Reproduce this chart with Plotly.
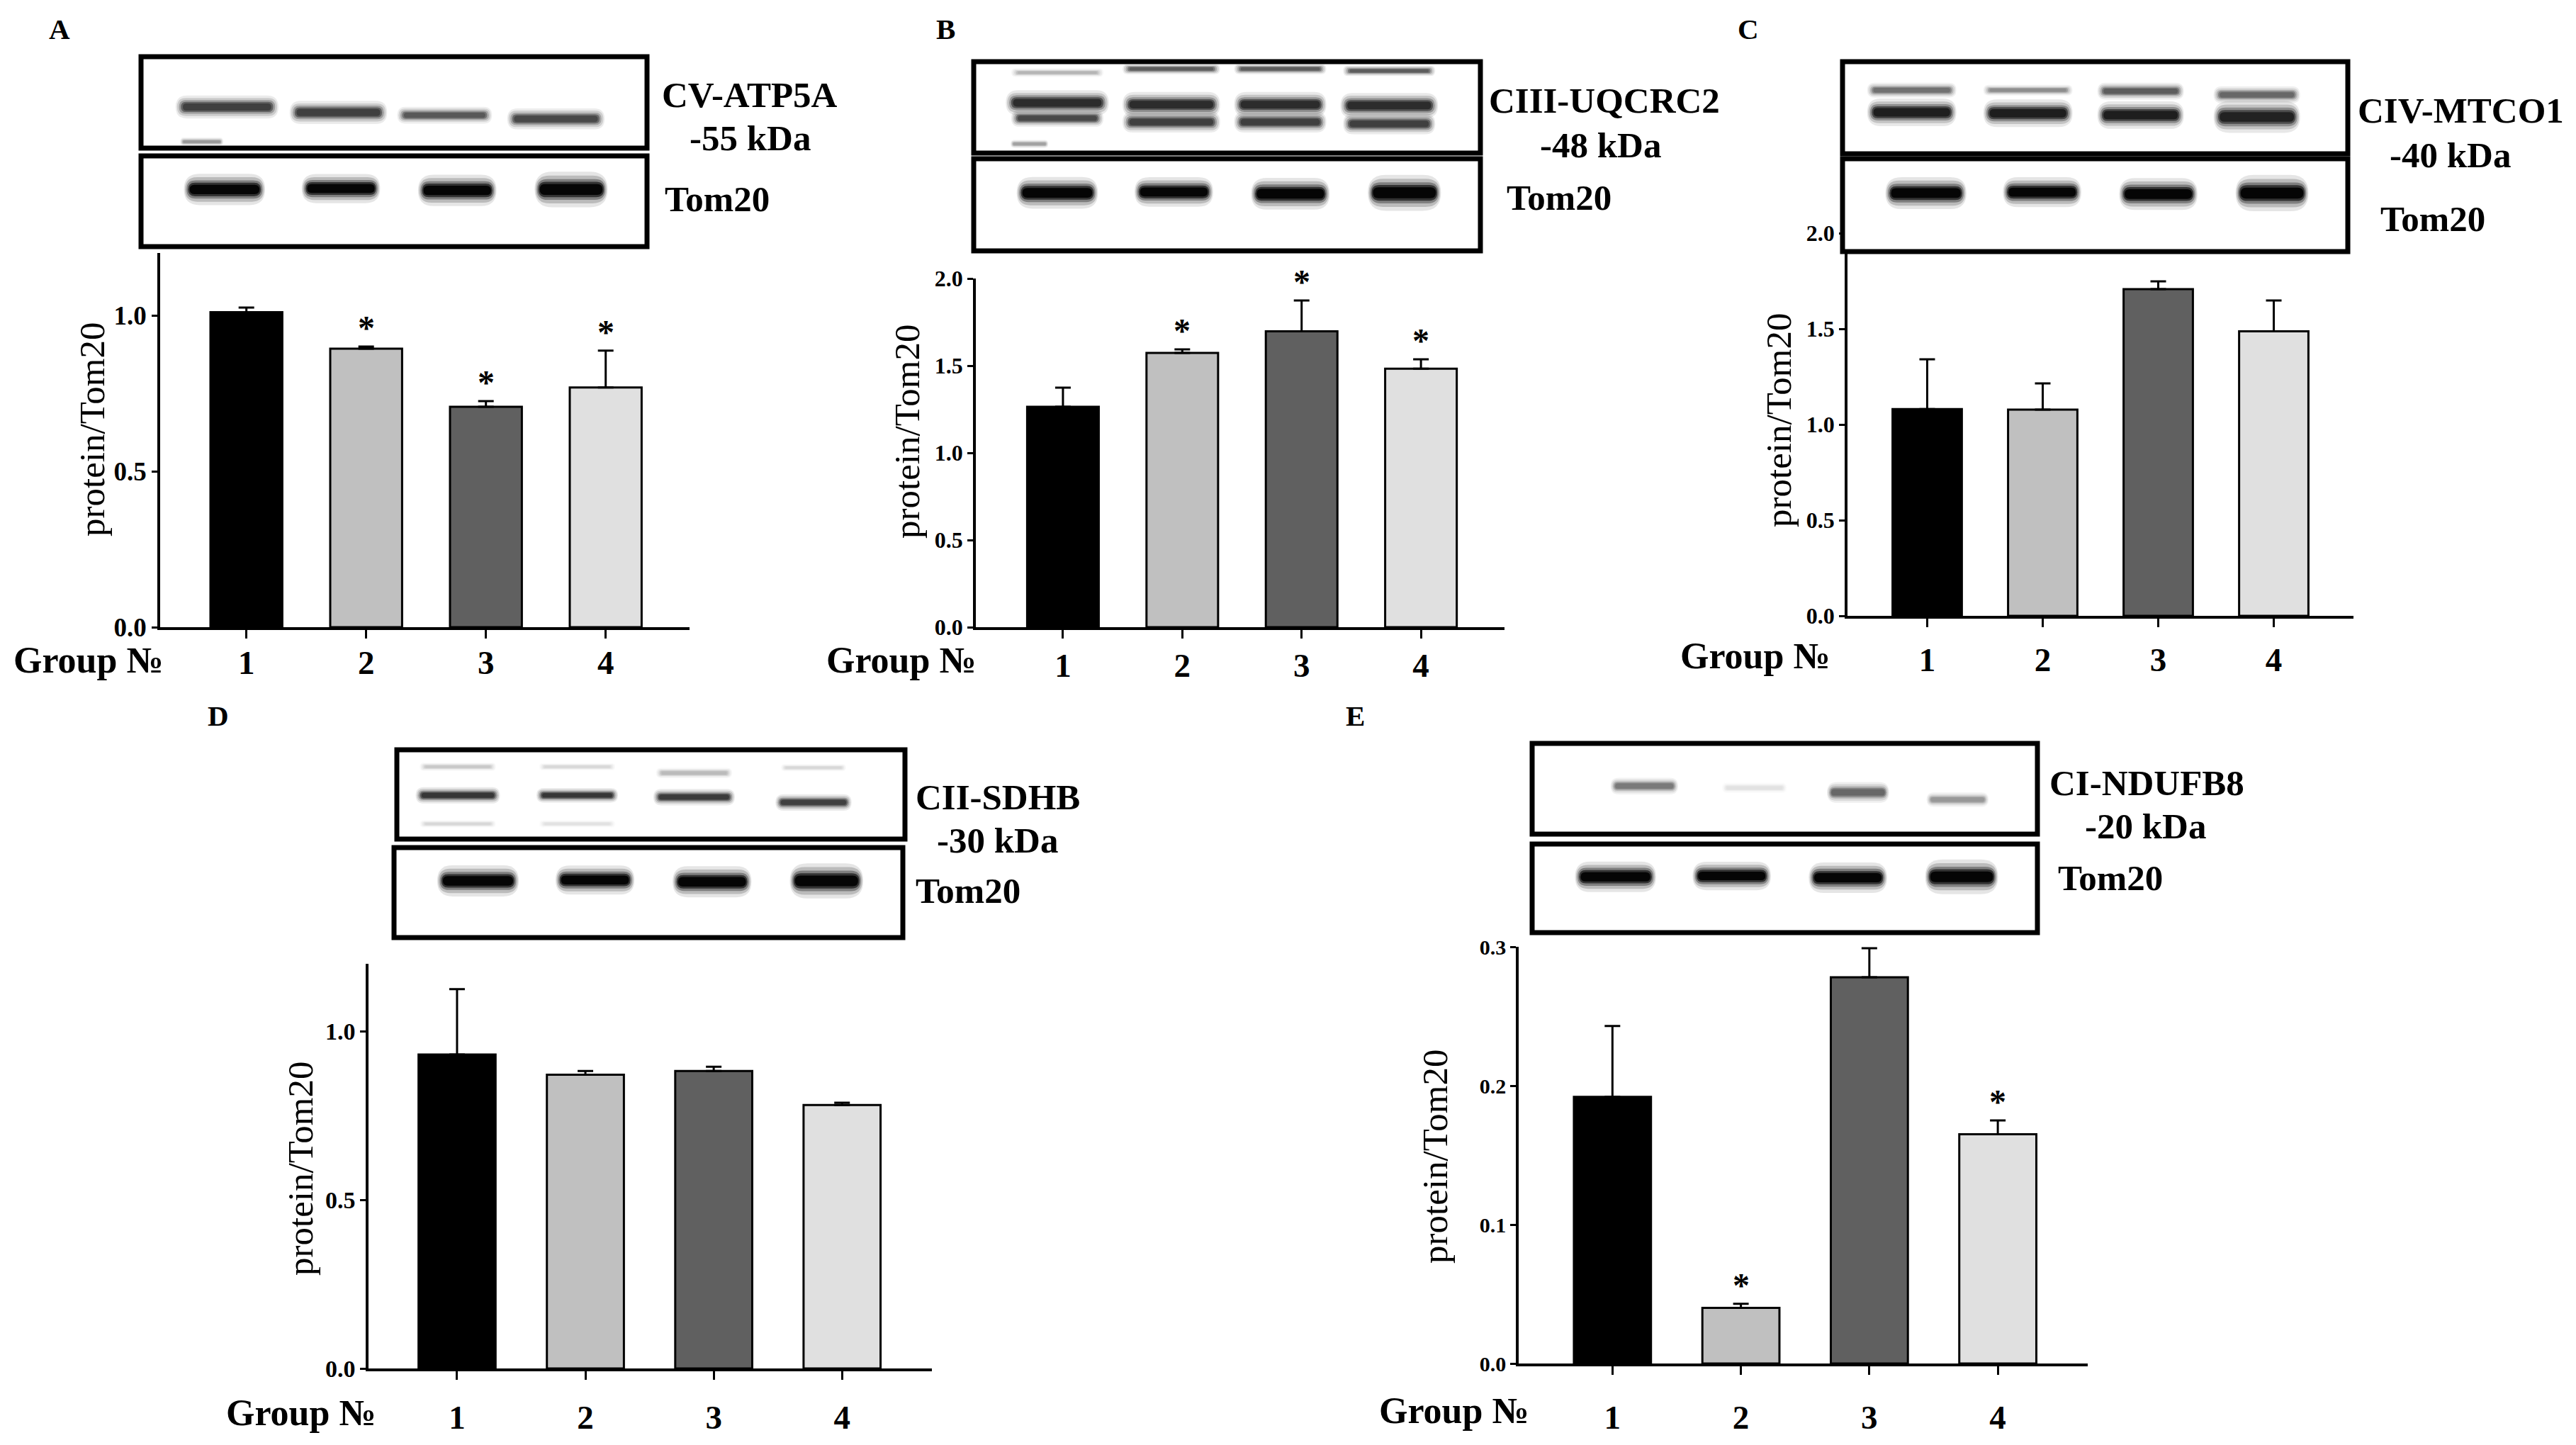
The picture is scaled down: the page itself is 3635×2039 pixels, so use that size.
import plotly.graph_objects as go

W, H = 3635, 2039
FONT = "Liberation Serif, Times New Roman, serif"

GROUPS = ["1", "2", "3", "4"]
BAR_COLORS = ["#000000", "#c0c0c0", "#606060", "#e0e0e0"]

# protein/Tom20 ratios
A_VALUES = [1.01, 0.893, 0.707, 0.769]
A_ERR = [0.015, 0.007, 0.018, 0.118]
A_SIG = ["", "*", "*", "*"]

B_VALUES = [1.264, 1.573, 1.697, 1.483]
B_ERR = [0.11, 0.02, 0.177, 0.054]
B_SIG = ["", "*", "*", "*"]

C_VALUES = [1.081, 1.078, 1.707, 1.487]
C_ERR = [0.26, 0.137, 0.041, 0.161]
C_SIG = ["", "", "", ""]

D_VALUES = [0.931, 0.871, 0.882, 0.781]
D_ERR = [0.194, 0.011, 0.013, 0.007]
D_SIG = ["", "", "", ""]

E_VALUES = [0.192, 0.040, 0.278, 0.165]
E_ERR = [0.051, 0.003, 0.021, 0.010]
E_SIG = ["", "*", "", "*"]

A_TICKS = [0.0, 0.5, 1.0]
B_TICKS = [0.0, 0.5, 1.0, 1.5, 2.0]
C_TICKS = [0.0, 0.5, 1.0, 1.5, 2.0]
D_TICKS = [0.0, 0.5, 1.0]
E_TICKS = [0.0, 0.1, 0.2, 0.3]

# ── blot decoration (lane x, y, width, height inside box; grey level) ──
TOM20_BANDS = [(0.165, 0.37, 0.15, 0.15, 0), (0.395, 0.36, 0.145, 0.14, 0),
               (0.625, 0.38, 0.145, 0.15, 0), (0.85, 0.37, 0.135, 0.17, 0)]

TOP_BANDS = {
    "A": [(0.17, 0.55, 0.19, 0.11, 60), (0.39, 0.61, 0.18, 0.11, 60),
          (0.60, 0.64, 0.175, 0.08, 85), (0.82, 0.68, 0.18, 0.10, 70),
          (0.12, 0.93, 0.08, 0.04, 150)],
    "B": [(0.165, 0.45, 0.19, 0.12, 40), (0.39, 0.47, 0.18, 0.12, 40),
          (0.605, 0.47, 0.17, 0.12, 40), (0.82, 0.48, 0.18, 0.12, 40),
          (0.165, 0.62, 0.17, 0.08, 70), (0.39, 0.66, 0.18, 0.10, 60),
          (0.605, 0.66, 0.17, 0.10, 60), (0.82, 0.68, 0.17, 0.10, 60),
          (0.39, 0.08, 0.18, 0.05, 90), (0.605, 0.08, 0.17, 0.05, 90),
          (0.82, 0.10, 0.17, 0.05, 90), (0.165, 0.12, 0.17, 0.04, 180),
          (0.11, 0.90, 0.07, 0.04, 160)],
    "C": [(0.137, 0.31, 0.165, 0.07, 110), (0.367, 0.31, 0.165, 0.05, 140),
          (0.59, 0.32, 0.16, 0.08, 90), (0.82, 0.36, 0.16, 0.08, 100),
          (0.137, 0.55, 0.165, 0.13, 25), (0.367, 0.56, 0.165, 0.13, 25),
          (0.59, 0.58, 0.16, 0.13, 25), (0.82, 0.60, 0.16, 0.15, 30)],
    "D": [(0.12, 0.51, 0.155, 0.08, 50), (0.355, 0.51, 0.15, 0.07, 50),
          (0.585, 0.53, 0.15, 0.08, 55), (0.82, 0.59, 0.14, 0.08, 60),
          (0.12, 0.19, 0.14, 0.04, 200), (0.355, 0.19, 0.14, 0.035, 215),
          (0.585, 0.26, 0.14, 0.05, 185), (0.82, 0.20, 0.12, 0.035, 215),
          (0.12, 0.83, 0.14, 0.035, 215), (0.355, 0.83, 0.14, 0.035, 225)],
    "E": [(0.222, 0.47, 0.125, 0.08, 120), (0.44, 0.49, 0.12, 0.05, 225),
          (0.645, 0.54, 0.115, 0.10, 100), (0.842, 0.62, 0.115, 0.07, 150)],
}

# panel geometry in screen pixels
PANELS = [
    dict(key="A", values=A_VALUES, err=A_ERR, sig=A_SIG, ticks=A_TICKS, ymax=1.2,
         protein="CV-ATP5A", kda="-55 kDa", ytick_size=37,
         letter=(84, 41), ax=(226, 973, 885, 357), xr=[-0.72, 3.70],
         box1=(199, 913, 80, 209), box2=(199, 913, 220, 348),
         lab1=(1058, 134), lab2=(1058, 195), lab3=(1012, 281),
         ytitle=(130, 606), group=(125, 931), standoff=-6),
    dict(key="B", values=B_VALUES, err=B_ERR, sig=B_SIG, ticks=B_TICKS, ymax=2.0,
         protein="CIII-UQCRC2", kda="-48 kDa", ytick_size=32,
         letter=(1334, 41), ax=(1377, 2123, 885, 393), xr=[-0.73, 3.70],
         box1=(1374, 2089, 87, 216), box2=(1374, 2089, 224, 354),
         lab1=(2264, 142), lab2=(2258, 205), lab3=(2200, 279),
         ytitle=(1280, 609), group=(1272, 932), standoff=-2),
    dict(key="C", values=C_VALUES, err=C_ERR, sig=C_SIG, ticks=C_TICKS, ymax=2.0,
         protein="CIV-MTCO1", kda="-40 kDa", ytick_size=32,
         letter=(2467, 41), ax=(2607, 3321, 869, 329), xr=[-0.69, 3.69],
         box1=(2600, 3313, 87, 217), box2=(2600, 3313, 224, 355),
         lab1=(3472, 156), lab2=(3457, 219), lab3=(3433, 309),
         ytitle=(2510, 593), group=(2477, 925), standoff=6),
    dict(key="D", values=D_VALUES, err=D_ERR, sig=D_SIG, ticks=D_TICKS, ymax=1.2,
         protein="CII-SDHB", kda="-30 kDa", ytick_size=34,
         letter=(308, 1010), ax=(520, 1315, 1931, 1360), xr=[-0.69, 3.70],
         box1=(560, 1277, 1058, 1184), box2=(556, 1274, 1196, 1323),
         lab1=(1408, 1125), lab2=(1407, 1186), lab3=(1366, 1257),
         ytitle=(424, 1649), group=(425, 1993), standoff=13),
    dict(key="E", values=E_VALUES, err=E_ERR, sig=E_SIG, ticks=E_TICKS, ymax=0.3,
         protein="CI-NDUFB8", kda="-20 kDa", ytick_size=30,
         letter=(1913, 1010), ax=(2143, 2946, 1924, 1336), xr=[-0.73, 3.70],
         box1=(2162, 2875, 1049, 1177), box2=(2162, 2875, 1191, 1316),
         lab1=(3029, 1105), lab2=(3027, 1166), lab3=(2978, 1239),
         ytitle=(2025, 1632), group=(2052, 1990), standoff=20),
]


def px(x):
    return x / W


def py(y):
    return 1 - y / H


def _text(fig, text, pos, size, bold=True, angle=0):
    fig.add_annotation(
        text=f"<b>{text}</b>" if bold else text,
        x=px(pos[0]), y=py(pos[1]), xref="paper", yref="paper",
        xanchor="center", yanchor="middle", showarrow=False, textangle=angle,
        font=dict(family=FONT, size=size, color="black"),
    )


def _box(fig, box):
    x0, x1, y0, y1 = box
    fig.add_shape(type="rect", xref="paper", yref="paper", layer="above",
                  x0=px(x0), x1=px(x1), y0=py(y1), y1=py(y0),
                  line=dict(color="black", width=7), fillcolor="white")


def _pill(x0, x1, y0, y1):
    """rounded band outline, pixel coords in -> paper path out"""
    r = min((y1 - y0) / 2, (x1 - x0) / 2)
    ym = (y0 + y1) / 2
    pts = [("M", x0 + r, y0), ("L", x1 - r, y0), ("Q", x1, y0, x1, ym),
           ("Q", x1, y1, x1 - r, y1), ("L", x0 + r, y1), ("Q", x0, y1, x0, ym),
           ("Q", x0, y0, x0 + r, y0)]
    out = []
    for seg in pts:
        cmd, vals = seg[0], seg[1:]
        coords = [f"{px(vals[k]):.5f},{py(vals[k + 1]):.5f}" for k in range(0, len(vals), 2)]
        out.append(cmd + " " + " ".join(coords))
    return " ".join(out) + " Z"


def _bands(fig, box, bands):
    x0, x1, y0, y1 = box
    bw, bh = x1 - x0, y1 - y0
    for cx, cy, w, h, g in bands:
        col = f"rgb({g},{g},{g})"
        # stacked soft layers -> blurry blot look
        for sw, sh, op in ((1.07, 2.3, 0.10), (1.04, 1.8, 0.18), (1.0, 1.35, 0.32),
                           (0.96, 1.0, 0.6), (0.92, 0.7, 0.9)):
            fig.add_shape(
                type="path", xref="paper", yref="paper", layer="above",
                path=_pill(x0 + (cx - w * sw / 2) * bw, x0 + (cx + w * sw / 2) * bw,
                           y0 + (cy - h * sh / 2) * bh, y0 + (cy + h * sh / 2) * bh),
                line=dict(width=0), fillcolor=col, opacity=op,
            )


fig = go.Figure()
layout_axes = {}

for i, p in enumerate(PANELS, start=1):
    xa = "x" if i == 1 else f"x{i}"
    ya = "y" if i == 1 else f"y{i}"
    fig.add_trace(go.Bar(
        x=GROUPS, y=p["values"], xaxis=xa, yaxis=ya, width=0.6,
        marker=dict(color=BAR_COLORS, line=dict(color="black", width=3)),
        error_y=dict(type="data", array=p["err"], arrayminus=[0] * len(p["err"]),
                     symmetric=False, color="black", thickness=3, width=11),
        showlegend=False,
    ))
    for k, (v, e, s) in enumerate(zip(p["values"], p["err"], p["sig"])):
        if s:
            fig.add_annotation(x=k, y=v + e, xref=xa, yref=ya, text=f"<b>{s}</b>",
                               showarrow=False, yanchor="bottom", yshift=-2,
                               font=dict(family=FONT, size=48, color="black"))

    x0, x1, yb, yt = p["ax"]
    layout_axes[f"xaxis{'' if i == 1 else i}"] = dict(
        domain=[px(x0), px(x1)], anchor=ya, type="category", categoryarray=GROUPS,
        range=p["xr"], showline=True, linecolor="black", linewidth=3.5,
        ticks="outside", ticklen=12, tickwidth=3, tickcolor="black",
        ticklabelstandoff=p["standoff"], showgrid=False, zeroline=False,
        automargin=False,
        tickfont=dict(family=FONT, size=47, color="black", weight="bold"),
    )
    layout_axes[f"yaxis{'' if i == 1 else i}"] = dict(
        domain=[py(yb), py(yt)], anchor=xa, range=[0, p["ymax"]],
        tickvals=p["ticks"], ticktext=[f"{t:.1f}" for t in p["ticks"]],
        showline=True, linecolor="black", linewidth=3.5,
        ticks="outside", ticklen=8, tickwidth=3, tickcolor="black",
        showgrid=False, zeroline=False, automargin=False,
        tickfont=dict(family=FONT, size=p["ytick_size"], color="black", weight="bold"),
    )

    _box(fig, p["box1"])
    _box(fig, p["box2"])
    _bands(fig, p["box1"], TOP_BANDS[p["key"]])
    _bands(fig, p["box2"], TOM20_BANDS)

    _text(fig, p["key"], p["letter"], 41)
    _text(fig, p["protein"], p["lab1"], 51)
    _text(fig, p["kda"], p["lab2"], 51)
    _text(fig, "Tom20", p["lab3"], 51)
    _text(fig, "Group №", p["group"], 52)
    _text(fig, "protein/Tom20", p["ytitle"], 51, bold=False, angle=-90)

fig.update_layout(
    width=W, height=H, margin=dict(l=0, r=0, t=0, b=0, pad=0),
    paper_bgcolor="white", plot_bgcolor="white",
    showlegend=False,
    **layout_axes,
)

# drop the default 8px page margin so paper coords line up with the screen
fig.write_html("out.html", config={"displayModeBar": False},
               post_script="document.body.style.margin='0';")
